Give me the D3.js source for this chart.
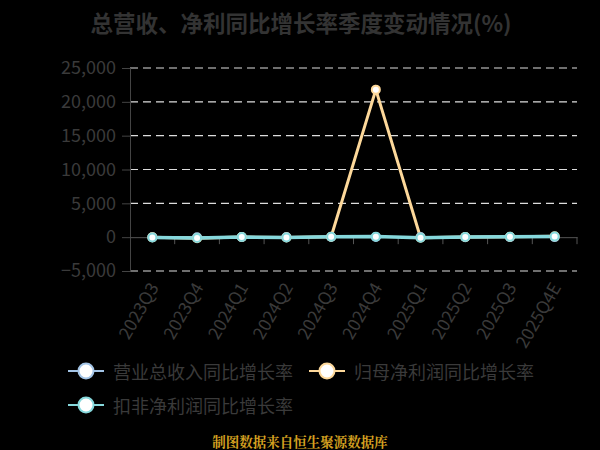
<!DOCTYPE html>
<html><head><meta charset="utf-8">
<script src="https://cdn.jsdelivr.net/npm/d3@7/dist/d3.min.js"></script>
<style>body{margin:0;background:#000;}svg{display:block;}</style>
</head><body>
<svg id="c" width="600" height="450"></svg>
<script>
const categories = ["2023Q3","2023Q4","2024Q1","2024Q2","2024Q3","2024Q4","2025Q1","2025Q2","2025Q3","2025Q4E"];
const revenueGrowth = [5, -10, 8, 12, 20, 15, 10, 5, 8, 10];
const netProfitGrowth = [-30, -150, 20, -50, 60, 21800, -90, 40, 50, 120];
const deductedGrowth = [-40, -120, 30, -60, 50, 80, -80, 30, 60, 100];
const yTicks = [-5000, 0, 5000, 10000, 15000, 20000, 25000];
const seriesNames = ["营业总收入同比增长率", "归母净利润同比增长率", "扣非净利润同比增长率"];
const seriesColors = ["#a3c4e6", "#fdd89a", "#86d8dc"];

(function () {
const svg = d3.select("#c");
const font = "'Noto Sans CJK SC','Noto Sans',sans-serif";
const pLeft = 130, pRight = 577, pTop = 68, pBottom = 271;

const x = d3.scalePoint().domain(categories).range([pLeft, pRight]).padding(0.5);
const xb = d3.scaleBand().domain(categories).range([pLeft, pRight]);
const y = d3.scaleLinear().domain([-5000, 25000]).range([pBottom, pTop]);

svg.append("text").attr("x", 301).attr("y", 22).attr("text-anchor", "middle")
  .attr("dominant-baseline", "central")
  .attr("font-family", font).attr("font-weight", "bold").attr("font-size", 22.5)
  .attr("fill", "#333").text("总营收、净利同比增长率季度变动情况(%)");

// grid
svg.append("g").selectAll("line").data(yTicks.filter(d => d !== 0)).join("line")
  .attr("x1", pLeft).attr("x2", pRight).attr("y1", d => y(d)).attr("y2", d => y(d))
  .attr("stroke", "#ddd").attr("stroke-width", 1.2).attr("stroke-dasharray", "8,5");

// y axis
const ya = svg.append("g").attr("transform", `translate(${pLeft},0)`)
  .call(d3.axisLeft(y).tickValues(yTicks).tickSize(8).tickPadding(6).tickFormat(d3.format(",")));
ya.select(".domain").attr("stroke", "#444");
ya.selectAll(".tick line").attr("stroke", "#444");
ya.selectAll("text").attr("font-family", font).attr("font-size", 18).attr("fill", "#3a3a3a");

// x axis at zero
const xa = svg.append("g").attr("transform", `translate(0,${y(0)})`)
  .call(d3.axisBottom(xb).tickSize(0).tickFormat(""));
xa.select(".domain").attr("stroke", "#555");
svg.append("g").selectAll("line").data(categories).join("line")
  .attr("x1", d => xb(d) + xb.step()).attr("x2", d => xb(d) + xb.step())
  .attr("y1", y(0)).attr("y2", y(0) + 7).attr("stroke", "#555");

// x labels
svg.append("g").selectAll("text").data(categories).join("text")
  .attr("transform", d => `translate(${x(d) + 3},${pBottom + 14}) rotate(-60)`)
  .attr("text-anchor", "end").attr("dominant-baseline", "middle")
  .attr("font-family", font).attr("font-size", 17.5).attr("fill", "#3a3a3a").text(d => d);

const data = [revenueGrowth, netProfitGrowth, deductedGrowth];
const line = d3.line().x((d, i) => x(categories[i])).y(d => y(d));
const widths = [2, 3, 3.5];
data.forEach((vals, k) => {
  svg.append("path").datum(vals).attr("d", line).attr("fill", "none")
    .attr("stroke", seriesColors[k]).attr("stroke-width", widths[k]);
});
data.forEach((vals, k) => {
  svg.append("g").selectAll("circle").data(vals).join("circle")
    .attr("cx", (d, i) => x(categories[i])).attr("cy", d => y(d)).attr("r", 4)
    .attr("fill", "#fff").attr("stroke", seriesColors[k]).attr("stroke-width", 2);
});

// legend
const legendPos = [[68, 371], [309, 371], [68, 405]];
seriesNames.forEach((name, k) => {
  const [lx, ly] = legendPos[k];
  const g = svg.append("g");
  g.append("line").attr("x1", lx).attr("x2", lx + 36).attr("y1", ly).attr("y2", ly)
    .attr("stroke", seriesColors[k]).attr("stroke-width", 2);
  g.append("circle").attr("cx", lx + 18).attr("cy", ly).attr("r", 7.5)
    .attr("fill", "#fff").attr("stroke", seriesColors[k]).attr("stroke-width", 2);
  g.append("text").attr("x", lx + 45).attr("y", ly).attr("dominant-baseline", "central")
    .attr("font-family", font).attr("font-size", 18).attr("fill", "#3a3a3a").text(name);
});

svg.append("text").attr("x", 300).attr("y", 441).attr("text-anchor", "middle")
  .attr("dominant-baseline", "central")
  .attr("font-family", "'Noto Serif CJK SC','Noto Sans CJK SC',serif").attr("font-weight", "bold")
  .attr("font-size", 13.5).attr("fill", "#d4a020").text("制图数据来自恒生聚源数据库");
})();
</script>
</body></html>
